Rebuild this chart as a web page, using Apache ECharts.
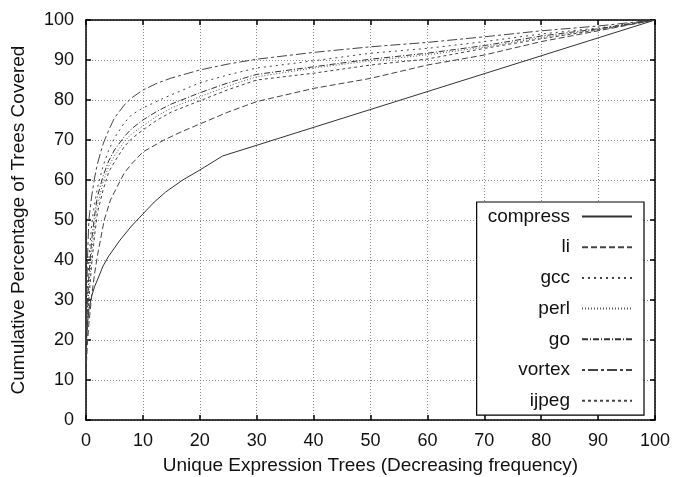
<!DOCTYPE html>
<html>
<head>
<meta charset="utf-8">
<script src="https://cdn.jsdelivr.net/npm/echarts@6/dist/echarts.min.js"></script>
<style>html,body{margin:0;padding:0;background:#fff}#c{width:675px;height:477px}</style>
</head>
<body>
<div id="c"></div>
<script>
var xTicks = [0,10,20,30,40,50,60,70,80,90,100];
var yTicks = [0,10,20,30,40,50,60,70,80,90,100];
var seriesNames = ['compress','li','gcc','perl','go','vortex','ijpeg'];

var compress = [[0,18],[0.25,24],[0.5,27.5],[1,31],[1.5,33.3],[2,35],[3,38.5],[4,41],[5,43],[6,45],[8,48.5],[10,51.5],[12,54.5],[14,57],[17,60],[20,62.5],[24,66],[100,100]];
var li = [[0,12],[0.25,19],[0.5,24],[1,31],[1.5,36.5],[2,41],[3.2,50],[4.3,55],[5,57],[6.7,61.7],[8,64],[10,67],[13.7,70],[17,72.2],[20,74],[25,77],[30,79.6],[40,82.9],[50,85.4],[60,88.75],[70,91.25],[80,94.6],[90,97.3],[100,100]];
var gcc = [[0,18],[0.25,32],[0.5,40],[1,49],[1.4,53],[2,58],[3,63.5],[4,67.5],[5,70.5],[6.7,74.2],[8,76.3],[10,78],[13.7,80.5],[17,82.5],[20,84.3],[25,86.3],[30,88],[40,89.8],[50,91.7],[60,92.9],[70,94.6],[80,96.5],[90,98],[100,100]];
var perl = [[0,16],[0.25,25],[0.5,33],[1,42],[1.5,48.5],[2,53.5],[3,59.5],[4,63.5],[5,66],[6.7,69.6],[8,71.5],[10,73.5],[12.5,76],[15,78],[20,80.8],[25,83.5],[30,85.8],[40,88],[50,89.8],[60,91.3],[70,93.2],[80,95.6],[90,97.6],[100,100]];
var go = [[0,18],[0.25,28],[0.5,36],[1,45],[1.5,51],[2,55.8],[3,61],[4,64.8],[5,67.5],[6.7,70.8],[8,72.8],[10,75],[12.5,77.2],[15,79],[20,81.8],[25,84.3],[30,86.4],[40,88.3],[50,90.2],[60,91.7],[70,93.6],[80,96],[90,97.8],[100,100]];
var vortex = [[0,20],[0.25,40],[0.5,50],[1,56],[1.5,60.5],[2,64],[3,69],[4,72.5],[5,75.5],[6.7,78.7],[8,80.5],[10,82.5],[12.5,84.2],[15,85.5],[20,87.5],[25,89],[30,90.2],[40,91.9],[50,93.3],[60,94.4],[70,95.8],[80,97.3],[90,98.5],[100,100]];
var ijpeg = [[0,15],[0.25,23],[0.5,30],[1,39],[1.5,46],[2,51.7],[3,57.5],[4,62],[5,64.5],[6.7,68.3],[8,70.3],[10,72.5],[12.5,75],[15,77],[20,79.8],[25,82.6],[30,85],[40,86.7],[50,88.75],[60,90.25],[70,92.9],[80,95.3],[90,97.5],[100,100]];

var dataByName = {compress:compress, li:li, gcc:gcc, perl:perl, go:go, vortex:vortex, ijpeg:ijpeg};
var dashes = {compress:'solid', li:[6,3], gcc:[2,4], perl:[1,2], go:[6,2,1,2], vortex:[3,3,10,3], ijpeg:[3,3]};
var colors = {compress:'#333', li:'#444', gcc:'#444', perl:'#555', go:'#333', vortex:'#444', ijpeg:'#444'};

var FONT = 'Liberation Sans';
var chart = echarts.init(document.getElementById('c'));

function mkX(pos, labels){
  return {type:'value', position:pos, min:0, max:100, interval:10,
    axisLine:{show:true, onZero:false, lineStyle:{color:'#000', width:1.5}},
    axisTick:{show:true, inside:true, length:5, lineStyle:{color:'#000', width:1.5}},
    axisLabel:{show:labels, color:'#111', fontFamily:FONT, fontSize:18, margin:12},
    splitLine:{show:labels, lineStyle:{color:'#888', type:[1,2], width:1}},
    name: labels ? 'Unique Expression Trees (Decreasing frequency)' : '',
    nameLocation:'middle', nameGap:36,
    nameTextStyle:{color:'#111', fontFamily:FONT, fontSize:19}};
}
function mkY(pos, labels){
  return {type:'value', position:pos, min:0, max:100, interval:10,
    axisLine:{show:true, onZero:false, lineStyle:{color:'#000', width:1.5}},
    axisTick:{show:true, inside:true, length:5, lineStyle:{color:'#000', width:1.5}},
    axisLabel:{show:labels, color:'#111', fontFamily:FONT, fontSize:18, margin:12},
    splitLine:{show:labels, lineStyle:{color:'#888', type:[1,2], width:1}},
    name: labels ? 'Cumulative Percentage of Trees Covered' : '',
    nameLocation:'middle', nameGap:58,
    nameTextStyle:{color:'#111', fontFamily:FONT, fontSize:19}};
}

var series = seriesNames.map(function(n){
  return {name:n, type:'line', data:dataByName[n], symbol:'none', smooth:false,
    lineStyle:{color:colors[n], width:1, type:dashes[n]}, itemStyle:{color:colors[n]}, z:3};
});

chart.setOption({
  animation:false,
  backgroundColor:'#fff',
  grid:{left:86, right:20, top:20, bottom:57, containLabel:false, outerBoundsMode:'none'},
  xAxis:[mkX('bottom', true), mkX('top', false)],
  yAxis:[mkY('left', true), mkY('right', false)],
  legend:{orient:'vertical', right:31, top:202, align:'right',
    backgroundColor:'#fff', borderColor:'#000', borderWidth:1.2, borderRadius:0,
    padding:[5,11,5,11], itemWidth:50, itemHeight:14, itemGap:11.7,
    itemStyle:{opacity:0},
    textStyle:{color:'#111', fontFamily:FONT, fontSize:19, padding:[0,7,0,0]},
    data:seriesNames},
  series:series
});
</script>
</body>
</html>
